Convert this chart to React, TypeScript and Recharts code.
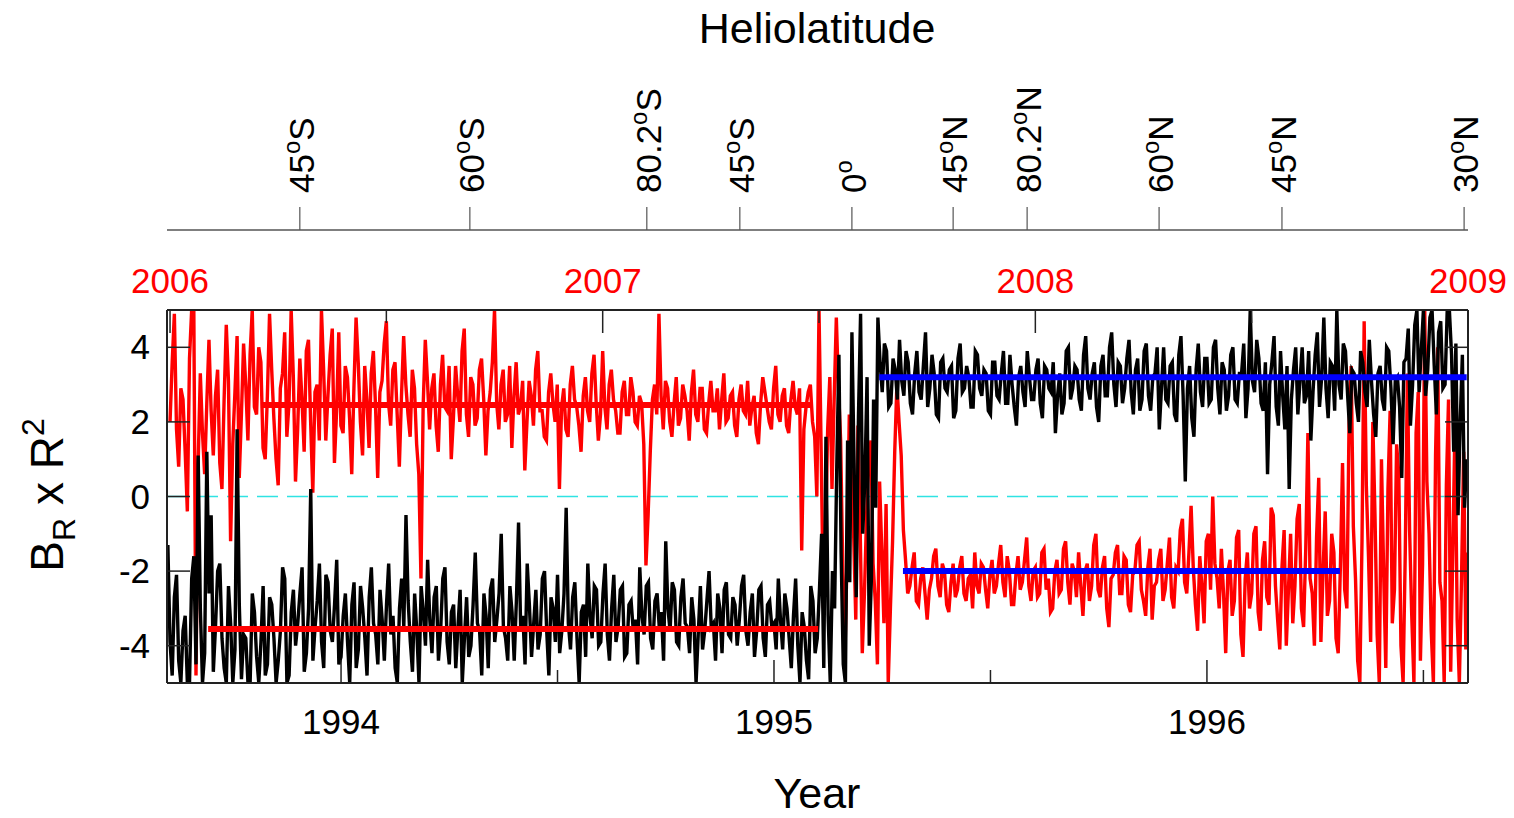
import React from 'react';
import { LineChart, Line, XAxis, YAxis, ReferenceLine } from 'recharts';

const FONT = '"Liberation Sans", Arial, Helvetica, sans-serif';

// one value every 0.005 yr
const STEP = 0.005;
const BLACK_START = 1993.6;
const RED_START = 2006.0;

// B_R x R^2, 1993.6 - 1996.6 (bottom year axis)
const blackValues = [
  -1.3, -3.9, -4.8, -2.7, -2.1, -4.4, -5, -3.6, -3.2, -5, -5, -2.2, -1.6, -4.5, 1.1, -3.0, -5, -4.2, 1.2, -2.6,
  -0.5, -4.7, -3.5, -2.0, -1.8, -3.8, -4.6, -5, -2.4, -3.4, -5, -4.1, 1.8, -2.9, -4.9, -3.7, -3.8, -5, -5, -2.6,
  -3.1, -4.3, -5, -3.9, -2.4, -4.8, -4.5, -2.7, -2.9, -3.8, -5, -4.4, -3.6, -1.9, -2.2, -5, -4.8, -3.1, -2.5, -4.0,
  -3.4, -2.6, -1.9, -4.7, -4.2, -3.0, 0.2, -4.4, -3.5, -2.8, -1.8, -3.9, -4.6, -2.1, -2.3, -3.6, -3.9, -2.9, -1.7, -4.5,
  -4.3, -3.2, -2.6, -3.9, -5, -2.9, -2.3, -4.6, -4.1, -2.4, -3.0, -3.8, -4.8, -2.7, -1.9, -3.4, -3.7, -4.5, -2.5, -3.3,
  -4.4, -2.9, -1.8, -3.7, -3.2, -4.6, -5, -3.0, -2.2, -3.5, -0.5, -2.8, -3.9, -4.7, -2.6, -3.6, -5, -2.4, -3.1, -4.0,
  -1.7, -3.3, -4.2, -2.7, -2.4, -4.4, -3.6, -2.2, -1.9, -3.9, -4.5, -3.1, -2.9, -4.6, -3.5, -2.5, -5, -3.8, -2.7, -4.3,
  -4.0, -2.9, -1.5, -3.4, -3.6, -4.8, -2.6, -3.2, -4.6, -2.5, -2.2, -3.9, -3.3, -2.6, -1.0, -3.5, -3.8, -4.4, -2.4, -3.1,
  -4.4, -2.8, -0.7, -3.6, -3.2, -4.5, -1.8, -2.9, -4.3, -3.4, -2.5, -4.1, -3.7, -2.2, -2.0, -3.6, -4.8, -2.7, -3.0, -3.9,
  -2.1, -4.2, -3.6, -2.6, -0.3, -3.4, -4.1, -2.7, -2.3, -3.8, -5, -3.1, -2.9, -4.3, -1.8, -3.2, -3.8, -2.4, -2.5, -4.0,
  -3.9, -2.6, -1.8, -3.7, -4.4, -3.0, -2.1, -3.9, -3.5, -2.5, -2.4, -4.3, -4.2, -2.9, -2.8, -3.6, -3.3, -4.5, -1.9, -3.2,
  -3.7, -2.4, -2.3, -3.8, -4.1, -2.8, -2.6, -3.5, -3.1, -4.4, -1.2, -3.0, -3.6, -2.3, -2.5, -3.9, -4.0, -2.7, -2.2, -3.4,
  -3.5, -4.2, -2.7, -3.3, -5, -3.7, -2.4, -4.1, -3.6, -2.8, -2.0, -3.5, -3.4, -4.4, -2.6, -3.0, -4.2, -2.5, -2.3, -3.7,
  -3.8, -2.7, -2.9, -4.0, -3.3, -2.4, -2.1, -3.6, -4.0, -3.1, -2.6, -4.3, -3.6, -2.5, -2.4, -3.8, -4.3, -2.9, -2.8, -3.5,
  -3.4, -4.1, -2.2, -3.3, -4.1, -2.6, -3.0, -3.8, -4.6, -3.2, -2.2, -4.0, -5, -3.1, -3.5, -4.4, -4.9, -2.4, -2.8, -4.2,
  -3.8, -2.5, -1.0, -4.6, 1.6, -3.2, -5, -2.0, -3.0, 0.8, 3.8, -1.5, -4.5, -5, 1.5, -2.3, 4.4, 0.9, -2.7, 2.1,
  4.9, -1.0, 0.5, 3.2, -4.0, -2.2, 2.6, -0.3, 4.8, 3.6, 2.8, 4.1, 3.9, 2.4, 2.5, 3.7, 3.4, 2.6, 4.2, 3.1,
  2.7, 3.9, 3.6, 2.5, 2.2, 3.3, 3.9, 2.8, 2.6, 3.5, 4.4, 2.4, 2.9, 3.8, 3.3, 2.2, 2.1, 3.6, 3.7, 2.9,
  2.8, 3.4, 3.5, 2.1, 2.3, 3.7, 4.1, 2.8, 2.9, 3.5, 3.2, 2.4, 2.4, 3.9, 3.8, 2.9, 2.7, 3.4, 3.3, 2.3,
  2.2, 3.6, 3.6, 2.7, 2.6, 3.3, 3.9, 2.5, 2.5, 3.8, 3.0, 2.4, 1.9, 3.2, 3.5, 2.8, 2.4, 3.9, 3.2, 2.6,
  2.6, 3.4, 3.7, 2.5, 2.1, 3.5, 3.4, 2.9, 2.8, 3.6, 1.7, 2.7, 3.3, 2.2, 2.5, 3.9, 4.0, 2.6, 2.9, 3.5,
  3.4, 2.6, 2.3, 3.8, 4.3, 2.9, 2.6, 3.3, 3.6, 2.4, 2.0, 3.5, 3.8, 2.7, 2.7, 4.0, 4.4, 3.0, 2.4, 3.6,
  3.5, 2.5, 2.9, 3.7, 4.2, 2.8, 2.2, 3.4, 3.7, 2.3, 2.6, 3.9, 4.1, 2.7, 2.3, 3.2, 3.3, 4.0, 1.8, 2.9,
  4.0, 2.6, 2.5, 3.5, 3.6, 2.2, 2.0, 3.8, 4.3, 2.7, 0.4, 2.9, 3.5, 2.1, 1.6, 3.4, 4.1, 2.8, 2.4, 3.7,
  3.7, 2.5, 2.6, 4.0, 4.2, 2.9, 2.2, 3.6, 3.4, 2.3, 2.7, 3.8, 4.0, 2.6, 2.5, 3.3, 3.3, 4.1, 2.1, 2.9,
  5.0, 3.1, 2.8, 4.2, 3.7, 2.5, 2.3, 3.6, 0.6, 3.0, 3.6, 4.3, 2.4, 1.9, 3.9, 2.7, 1.8, 3.5, 0.2, 2.6,
  3.4, 4.0, 2.2, 3.1, 4.0, 2.5, 2.7, 3.9, 1.5, 2.8, 3.8, 4.4, 2.4, 3.2, 4.8, 2.9, 2.1, 3.6, 3.5, 2.3,
  5.0, 3.0, 2.6, 4.1, 3.9, 2.7, 1.7, 3.4, 3.3, 2.5, 2.0, 3.9, 3.6, 2.8, 2.4, 4.2, 3.1, 2.2, 1.6, 3.3,
  3.5, 2.6, 2.3, 4.0, 3.9, 2.9, 1.4, 3.1, 3.2, 2.4, 0.5, 3.6, 3.7, 4.5, 1.9, 3.0, 4.6, 5.0, 2.8, 3.9,
  5.0, 2.7, 3.4, 4.8, 5.0, 3.5, 2.2, 4.4, 4.7, 2.9, 3.0, 5.0, 5.0, 3.8, 1.2, 4.1, -0.5, 2.0, 3.8, -0.3,
  1.0,
];

// B_R x R^2, 2006.0 - 2009.0 (top year axis)
const redValues = [
  2.0, 3.6, 4.9, 1.8, 0.8, 2.9, 2.6, 1.2, -0.4, 3.7, 5.0, 5.0, -4.8, 0.9, 3.3, 1.7, 0.6, 2.5, 4.2, 2.3,
  1.1, 2.7, 3.4, 0.9, 0.2, 2.6, 4.6, 3.1, -1.2, 1.4, 2.8, 4.3, 0.5, 2.2, 4.1, 3.0, 1.5, 3.8, 5.0, 2.4,
  2.2, 4.0, 3.6, 1.3, 1.0, 2.7, 4.9, 3.4, 2.1, 1.0, 0.3, 2.9, 3.3, 4.4, 1.6, 2.5, 5.0, 3.2, 0.4, 1.8,
  3.7, 2.6, 1.2, 3.9, 4.2, 2.0, 0.1, 2.8, 3.0, 1.5, 5.0, 3.4, 1.5, 2.7, 3.8, 4.5, 0.9, 2.3, 4.4, 1.9,
  1.7, 3.5, 3.2, 2.1, 0.6, 2.9, 4.8, 3.6, 2.0, 1.1, 3.5, 2.6, 1.3, 3.3, 3.9, 2.4, 0.5, 2.8, 3.1, 4.1,
  4.7, 2.5, 1.9, 3.4, 3.6, 2.2, 0.8, 2.7, 4.3, 3.0, 2.2, 1.6, 3.4, 2.9, 1.4, 0.6, -2.2, 2.4, 4.2, 3.1,
  1.8, 2.9, 3.3, 1.9, 1.2, 3.0, 3.8, 2.4, 2.3, 3.5, 1.0, 2.1, 3.5, 2.7, 2.0, 3.9, 4.5, 2.2, 1.6, 3.2,
  3.0, 1.9, 2.1, 3.4, 3.7, 2.6, 1.1, 2.3, 2.8, 3.6, 5.0, 2.5, 1.8, 3.0, 3.4, 2.0, 2.2, 3.5, 1.3, 2.7,
  3.6, 2.2, 2.4, 3.1, 0.7, 2.0, 3.1, 2.7, 1.9, 3.4, 3.9, 2.3, 2.3, 1.6, 1.5, 2.8, 3.3, 2.5, 2.0, 3.0,
  0.2, 2.4, 2.9, 1.8, 1.6, 3.0, 3.5, 2.6, 2.4, 1.9, 1.2, 2.7, 3.2, 2.3, 2.0, 3.3, 3.8, 2.5, 1.5, 2.2,
  3.9, 2.4, 1.8, 3.0, 3.4, 2.6, 2.3, 1.7, 1.7, 2.8, 3.1, 2.2, 2.2, 3.2, 2.8, 2.0, 1.9, 2.7, 2.5, 1.4,
  -1.85, -0.5, 1.2, 2.6, 3.0, 2.2, 4.9, 2.7, 1.8, 3.1, 2.9, 2.0, 1.6, 2.5, 3.2, 1.9, 2.1, 3.0, 2.7, 2.3,
  1.5, 2.8, 3.4, 2.2, 2.0, 2.9, 2.9, 1.8, 1.7, 2.5, 3.1, 2.3, 2.3, 2.9, 1.8, 2.6, 3.3, 2.0, 2.1, 2.7,
  2.8, 1.9, 1.6, 2.6, 3.0, 2.3, 2.2, 3.1, 1.9, 2.4, 2.7, 1.7, 1.4, 2.5, 3.2, 2.8, 2.4, 2.0, 1.8, 2.9,
  3.5, 2.2, 2.0, 2.7, 2.9, 1.9, 1.7, 2.6, 3.1, 2.4, 2.2, 2.9, -1.45, 1.8, 2.4, 2.8, 3.0, 2.0, 1.6, 0.0,
  5.0, 1.2, -3.0, -1.2, 1.8, 3.2, 0.2, 2.6, 4.8, 2.9, 1.5, -2.0, -4.2, -1.5, 2.2, 0.5, -1.0, -3.3, 1.9, -0.8,
  -4.2, -2.6, -0.5, 1.0, 1.5, -1.8, -2.8, -4.5, 0.4, -1.4, -3.4, -0.2, -5.0, -3.0, -1.2, 1.2, 3.0, 2.0, 1.1, -0.9,
  -1.7, -2.6, -2.4, -1.9, -1.5, -2.8, -2.9, -2.2, -1.9, -2.6, -3.3, -2.5, -2.2, -1.6, -1.4, -2.4, -2.7, -1.8, -2.0, -2.9,
  -3.1, -2.3, -1.8, -2.7, -2.5, -1.9, -1.6, -2.6, -2.8, -2.2, -2.1, -3.0, -1.5, -2.4, -2.6, -1.8, -1.9, -2.5, -3.0, -2.1,
  -1.7, -2.6, -2.4, -1.8, -1.3, -2.3, -2.7, -1.6, -2.0, -2.9, -2.9, -2.1, -1.6, -2.5, -2.3, -1.7, -1.1, -2.4, -2.8, -2.0,
  -1.9, -2.7, -2.6, -1.5, -1.4, -2.5, -2.2, -3.1, -3.0, -2.0, -1.7, -2.6, -2.5, -1.4, -1.2, -2.3, -2.9, -1.8, -2.0, -2.7,
  -1.5, -2.4, -3.2, -2.0, -1.8, -2.8, -2.4, -1.3, -1.0, -2.5, -2.7, -1.9, -1.6, -3.0, -3.5, -2.2, -2.1, -1.5, -1.3, -2.6,
  -2.6, -1.6, -1.7, -2.9, -3.1, -2.1, -2.0, -1.3, -1.2, -2.5, -2.8, -3.2, -1.9, -1.4, -3.3, -2.4, -2.3, -1.7, -1.4, -2.8,
  -2.5, -1.8, -1.1, -2.7, -3.0, -1.9, -2.0, -0.9, -0.6, -2.3, -2.6, -1.5, -0.25, -1.9, -2.9, -3.6, -1.6, -2.4, -3.4, -1.2,
  -1.0, -2.5, 0.0, -1.8, -2.2, -3.0, -1.4, -2.6, -4.2, -2.0, -1.7, -3.2, -2.8, -1.1, -0.9, -3.7, -4.3, -2.2, -1.5, -3.0,
  -2.6, -1.0, -0.8, -3.1, -3.6, -1.7, -1.2, -2.7, -2.9, -0.3, -0.5, -2.4, -3.3, -4.1, -1.9, -0.9, -4.0, -2.5, -1.0, -3.4,
  -2.4, -0.6, -0.2, -3.0, -3.5, -1.4, 1.7, -2.2, -2.6, -4.0, -1.1, 0.5, -3.9, -2.0, -0.4, -3.2, -2.8, -1.0, -1.5, -3.8,
  -4.2, -1.9, 0.9, -2.5, -3.0, 1.9, 3.5, -0.8, -2.2, -4.4, -5.0, -1.2, 4.7, 0.3, -1.6, -3.9, 2.0, -0.5, -3.7, -5.0,
  1.0, -2.0, -4.6, 0.2, 2.3, -3.4, -2.5, 1.4, 0.6, -4.0, -5.0, -1.5, 3.3, -0.9, -3.2, -5.0, 1.7, 2.8, -4.4, -1.8,
  5.0, 0.4, -1.0, -3.6, -5.0, 1.1, 4.0, -2.3, -2.8, -5.0, 0.3, 2.6, -4.7, -1.4, 2.0, -3.3, -5.0, -2.2, 1.2, -4.1,
  -1.5,
];

// fitted levels: [start, end] dates and value
const fitBlackEarly = [{ t: 1993.693, v: -3.55 }, { t: 1995.102, v: -3.55 }];
const fitBlackLate = [{ t: 1995.243, v: 3.2 }, { t: 1996.6, v: 3.2 }];
const fitRedEarly = [{ t: 2006.21, v: 2.45 }, { t: 2007.48, v: 2.45 }];
const fitRedLate = [{ t: 2007.694, v: -2.0 }, { t: 2008.704, v: -2.0 }];

const bottomTicks = [1994, 1994.5, 1995, 1995.5, 1996, 1996.5];
const topTicks = [2006, 2006.5, 2007, 2007.5, 2008, 2008.5, 2009];
const yTicks = [-4, -2, 0, 2, 4];

// dates (top axis) at which the heliolatitude labels apply
const helioDates = [2006.3, 2006.693, 2007.102, 2007.317, 2007.576, 2007.81, 2007.981, 2008.286, 2008.57, 2008.991];
const helioLats = ['45', '60', '80.2', '45', '0', '45', '80.2', '60', '45', '30'];
const helioHemis = ['S', 'S', 'S', 'S', '', 'N', 'N', 'N', 'N', 'N'];

const blackSeries = blackValues.map((v, i) => ({ t: BLACK_START + i * STEP, v }));
const redSeries = redValues.map((v, i) => ({ t: RED_START + i * STEP, v }));

const BottomTick = (props: any) => {
  const { x, y, payload } = props;
  const major = Number.isInteger(payload.value);
  return (
    <g>
      <line x1={x} x2={x} y1={y} y2={y - (major ? 23 : 13)} stroke="#222" strokeWidth={1.5} />
      {major && (
        <text x={x} y={y + 51} textAnchor="middle" fontSize={35} fontFamily={FONT} fill="#000">
          {payload.value}
        </text>
      )}
    </g>
  );
};

const TopTick = (props: any) => {
  const { x, y, payload } = props;
  const major = Number.isInteger(payload.value);
  return (
    <g>
      <line x1={x} x2={x} y1={y} y2={y + (major ? 23 : 13)} stroke="#222" strokeWidth={1.5} />
      {major && (
        <text x={x} y={y - 17} textAnchor="middle" fontSize={35} fontFamily={FONT} fill="#FF0000">
          {payload.value}
        </text>
      )}
    </g>
  );
};

const HelioTick = (props: any) => {
  const { x, y, index } = props;
  const x0 = x + 14;
  const y0 = y - 37;
  return (
    <g>
      <line x1={x} x2={x} y1={y} y2={y - 23} stroke="#555" strokeWidth={1.2} />
      <text x={x0} y={y0} transform={`rotate(-90 ${x0} ${y0})`} fontSize={35} fontFamily={FONT} fill="#000">
        {helioLats[index]}
        <tspan fontSize={24} dy={-14}>o</tspan>
        <tspan fontSize={35} dy={14}>{helioHemis[index]}</tspan>
      </text>
    </g>
  );
};

const LeftTick = (props: any) => {
  const { x, y, payload } = props;
  return (
    <g>
      <line x1={x} x2={x + 23} y1={y} y2={y} stroke="#222" strokeWidth={1.5} />
      <text x={x - 17} y={y + 12} textAnchor="end" fontSize={35} fontFamily={FONT} fill="#000">
        {payload.value}
      </text>
    </g>
  );
};

const RightTick = (props: any) => {
  const { x, y } = props;
  return <line x1={x - 23} x2={x} y1={y} y2={y} stroke="#222" strokeWidth={1.5} />;
};

const frame = { stroke: '#222', strokeWidth: 2 };

export default function App() {
  return (
    <div style={{ position: 'absolute', left: 0, top: 0, width: 1510, height: 816, background: '#fff' }}>
      <LineChart width={1510} height={816} margin={{ top: 30, right: 32, bottom: 15, left: 97 }}>
        <XAxis
          xAxisId="bottom"
          type="number"
          dataKey="t"
          orientation="bottom"
          domain={[1993.598, 1996.603]}
          allowDataOverflow
          ticks={bottomTicks}
          interval={0}
          height={118}
          tickSize={0}
          tickMargin={0}
          tickLine={false}
          axisLine={frame}
          tick={(p: any) => <BottomTick {...p} />}
          label={{
            content: () => (
              <text x={817} y={808} textAnchor="middle" fontSize={43} fontFamily={FONT} fill="#000">
                Year
              </text>
            ),
          }}
        />
        <XAxis
          xAxisId="aTop"
          type="number"
          dataKey="t"
          orientation="top"
          domain={[2005.993, 2009.0]}
          allowDataOverflow
          ticks={topTicks}
          interval={0}
          height={80}
          tickSize={0}
          tickMargin={0}
          tickLine={false}
          axisLine={frame}
          tick={(p: any) => <TopTick {...p} />}
        />
        <XAxis
          xAxisId="helio"
          type="number"
          dataKey="t"
          orientation="top"
          domain={[2005.993, 2009.0]}
          allowDataOverflow
          ticks={helioDates}
          interval={0}
          height={200}
          tickSize={0}
          tickMargin={0}
          tickLine={false}
          axisLine={{ stroke: '#000', strokeWidth: 1.2 }}
          tick={(p: any) => <HelioTick {...p} />}
          label={{
            content: () => (
              <text x={817} y={43} textAnchor="middle" fontSize={43} fontFamily={FONT} fill="#000">
                Heliolatitude
              </text>
            ),
          }}
        />
        <YAxis
          yAxisId="left"
          type="number"
          domain={[-5, 5]}
          allowDataOverflow
          ticks={yTicks}
          interval={0}
          width={70}
          tickSize={0}
          tickMargin={0}
          tickLine={false}
          axisLine={frame}
          tick={(p: any) => <LeftTick {...p} />}
          label={{
            content: () => (
              <text
                x={63}
                y={495}
                transform="rotate(-90 63 495)"
                textAnchor="middle"
                fontSize={46}
                fontFamily={FONT}
                fill="#000"
              >
                B
                <tspan fontSize={32} dy={12}>R</tspan>
                <tspan fontSize={46} dy={-12}> x R</tspan>
                <tspan fontSize={32} dy={-19}>2</tspan>
              </text>
            ),
          }}
        />
        <YAxis
          yAxisId="right"
          orientation="right"
          type="number"
          domain={[-5, 5]}
          allowDataOverflow
          ticks={yTicks}
          interval={0}
          width={10}
          tickSize={0}
          tickMargin={0}
          tickLine={false}
          axisLine={frame}
          tick={(p: any) => <RightTick {...p} />}
        />
        <ReferenceLine xAxisId="bottom" yAxisId="left" y={0} stroke="#2FE3E3" strokeWidth={1.5} strokeDasharray="21 9" />
        <Line
          xAxisId="aTop"
          yAxisId="left"
          data={redSeries}
          dataKey="v"
          type="linear"
          stroke="#FF0000"
          strokeWidth={3.4}
          dot={false}
          isAnimationActive={false}
        />
        <Line
          xAxisId="bottom"
          yAxisId="left"
          data={blackSeries}
          dataKey="v"
          type="linear"
          stroke="#000000"
          strokeWidth={3.4}
          dot={false}
          isAnimationActive={false}
        />
        <Line xAxisId="bottom" yAxisId="left" data={fitBlackEarly} dataKey="v" stroke="#FF0000" strokeWidth={6} dot={false} isAnimationActive={false} />
        <Line xAxisId="aTop" yAxisId="left" data={fitRedEarly} dataKey="v" stroke="#FF0000" strokeWidth={6} dot={false} isAnimationActive={false} />
        <Line xAxisId="bottom" yAxisId="left" data={fitBlackLate} dataKey="v" stroke="#0000FF" strokeWidth={6} dot={false} isAnimationActive={false} />
        <Line xAxisId="aTop" yAxisId="left" data={fitRedLate} dataKey="v" stroke="#0000FF" strokeWidth={6} dot={false} isAnimationActive={false} />
      </LineChart>
    </div>
  );
}
